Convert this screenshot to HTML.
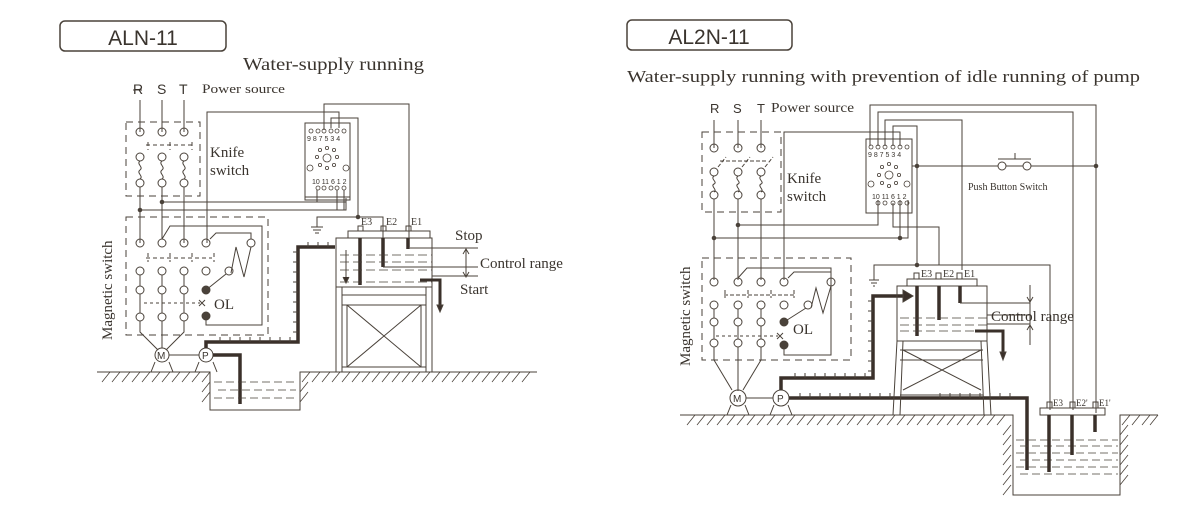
<!DOCTYPE html>
<html><head><meta charset="utf-8"><style>
html,body{margin:0;padding:0;background:#fff}
svg{display:block}
text{font-family:"Liberation Serif",serif;fill:#3a342e}
.s{font-family:"Liberation Sans",sans-serif}
</style></head><body>
<svg width="1200" height="522" viewBox="0 0 1200 522" xmlns="http://www.w3.org/2000/svg">
<g fill="none" stroke="#4a423a" stroke-width="1">
<!-- ===== LEFT ===== -->
<rect x="60" y="21" width="166" height="30" rx="5" stroke-width="1.5"/>
<path d="M140 100V132M162 100V132M184 100V132"/>
<path d="M133 90H142"/>
<rect x="126" y="122" width="74" height="74" stroke-dasharray="7,5"/>
<g>
<circle cx="140" cy="132" r="4"/><circle cx="162" cy="132" r="4"/><circle cx="184" cy="132" r="4"/>
<circle cx="140" cy="157" r="4"/><circle cx="162" cy="157" r="4"/><circle cx="184" cy="157" r="4"/>
<circle cx="140" cy="183" r="4"/><circle cx="162" cy="183" r="4"/><circle cx="184" cy="183" r="4"/>
</g>
<path d="M148 142V150M170 142V150M192 142V150M146 145H195" stroke-dasharray="4,3"/>
<path d="M140 161c-4 3 4 6 0 9s4 6 0 9M162 161c-4 3 4 6 0 9s4 6 0 9M184 161c-4 3 4 6 0 9s4 6 0 9"/>
<path d="M140 187V239M162 187V239M184 187V239"/>
<path d="M140 210H346V198M162 202H346"/>
<circle cx="140" cy="210" r="1.8" fill="#4a423a"/><circle cx="162" cy="202" r="1.8" fill="#4a423a"/>
<rect x="305" y="123" width="45" height="74"/>
<path d="M305 197v3h45v-3"/>
<g stroke-width="0.8">
<circle cx="311" cy="131" r="2"/><circle cx="318" cy="131" r="2"/><circle cx="324" cy="131" r="2"/><circle cx="331" cy="131" r="2"/><circle cx="337" cy="131" r="2"/><circle cx="344" cy="131" r="2"/>
<circle cx="318" cy="188" r="2"/><circle cx="324" cy="188" r="2"/><circle cx="331" cy="188" r="2"/><circle cx="337" cy="188" r="2"/><circle cx="344" cy="188" r="2"/>
<circle cx="327" cy="158" r="4"/>
<circle cx="327" cy="148" r="1.6"/><circle cx="334" cy="150" r="1.6"/><circle cx="337" cy="157" r="1.6"/><circle cx="334" cy="165" r="1.6"/><circle cx="327" cy="168" r="1.6"/><circle cx="320" cy="165" r="1.6"/><circle cx="317" cy="157" r="1.6"/><circle cx="320" cy="150" r="1.6"/>
<circle cx="310" cy="168" r="3"/><circle cx="346" cy="168" r="3"/>
</g>
<path d="M324 130V104H409V238"/>
<path d="M207 243V112H339V128"/>
<path d="M331 128V118H358V217"/>
<path d="M317 190V202M337 190V210M344 190V210"/>
<path d="M358 217H383V238M358 217H317V227"/>
<circle cx="358" cy="217" r="1.8" fill="#4a423a"/>
<path d="M311 227h12M313 230h8M315 233h4"/>
<rect x="126" y="217" width="142" height="118" stroke-dasharray="7,5"/>
<path d="M140 239V243M184 239V243"/>
<g>
<circle cx="140" cy="243" r="4"/><circle cx="162" cy="243" r="4"/><circle cx="184" cy="243" r="4"/><circle cx="206" cy="243" r="4"/><circle cx="251" cy="243" r="4"/>
<circle cx="140" cy="271" r="4"/><circle cx="162" cy="271" r="4"/><circle cx="184" cy="271" r="4"/><circle cx="206" cy="271" r="4"/><circle cx="229" cy="271" r="4"/>
<circle cx="140" cy="290" r="4"/><circle cx="162" cy="290" r="4"/><circle cx="184" cy="290" r="4"/>
<circle cx="140" cy="317" r="4"/><circle cx="162" cy="317" r="4"/><circle cx="184" cy="317" r="4"/>
</g>
<circle cx="206" cy="290" r="4" fill="#4a423a"/><circle cx="206" cy="316" r="4" fill="#4a423a"/>
<path d="M162 239l8-13H262V325H206V316"/>
<path d="M210 239l6-6H251V239M251 247l-7 30-8-30-5 26" />
<path d="M206 290l20-16"/>
<path d="M148 253V262M170 253V262M192 253V262M214 253V262M146 258H212" stroke-dasharray="4,3"/>
<path d="M140 275V286M162 275V286M184 275V286M140 294V313M162 294V313M184 294V313"/>
<path d="M144 303H200" stroke-dasharray="3,3"/>
<path d="M199 300l6 6M205 300l-6 6"/>
<path d="M140 321V332l18 18M162 321V348M184 321V332l-18 18"/>
<circle cx="162" cy="355" r="7"/><circle cx="206" cy="355" r="7"/>
<path d="M169 355H199M155 362l-4 10M169 362l4 10M199 362l-4 10M213 362l4 10"/>
<path d="M206 348V342H298V247H335" stroke-width="3.5" stroke="#3a302a"/>
<path d="M213 355H240V404" stroke-width="3.5" stroke="#3a302a"/>
<path d="M298 252h-5M298 262h-5M298 272h-5M298 282h-5M298 292h-5M298 302h-5M298 312h-5M298 322h-5M298 332h-5M290 342v-5M280 342v-5M270 342v-5M260 342v-5M250 342v-5M240 342v-5M230 342v-5M220 342v-5M308 247v-5M318 247v-5M328 247v-5"/>
<path d="M97 372H210V410H300V372H537"/>
<g stroke-width="0.8">
<path d="M102 382l8-10M112 382l8-10M122 382l8-10M132 382l8-10M142 382l8-10M152 382l8-10M162 382l8-10M172 382l8-10M182 382l8-10M192 382l8-10M202 382l8-10M202 392l8-10M202 402l8-10M302 382l8-10M312 382l8-10M322 382l8-10M332 382l8-10M342 382l8-10M352 382l8-10M362 382l8-10M372 382l8-10M382 382l8-10M392 382l8-10M402 382l8-10M412 382l8-10M422 382l8-10M432 382l8-10M442 382l8-10M452 382l8-10M462 382l8-10M472 382l8-10M482 382l8-10M492 382l8-10M502 382l8-10M512 382l8-10M522 382l8-10M300 392l8-10M300 402l8-10"/>
</g>
<path d="M214 382H296M218 390H296M214 398H296" stroke-dasharray="8,4" stroke-width="0.8"/>
<rect x="336" y="238" width="96" height="49"/>
<rect x="348" y="231" width="82" height="7"/>
<rect x="358" y="226" width="5" height="5"/><rect x="381" y="226" width="5" height="5"/><rect x="406" y="226" width="5" height="5"/>
<path d="M360 238V285M383 238V267M408 238V249" stroke-width="3.5" stroke="#3a302a"/>
<path d="M340 255H432M340 262H432M340 270H432M340 282H432" stroke-dasharray="9,4" stroke-width="0.8"/>
<path d="M346 250V282" /><path d="M343 277l3 6 3-6" fill="#3a302a"/>
<path d="M420 280H440V308" stroke-width="3" stroke="#3a302a"/>
<path d="M437 305l3 7 3-7z" fill="#3a302a"/>
<path d="M410 248H478M383 267H478M432 276H478M466 250V276"/>
<path d="M463 254l3 -5 3 5M463 272l3 5 3-5"/>
<path d="M336 287V372M342 287V372M426 287V372M432 287V372M342 295H426M342 305H426M342 367H426M347 305L421 367M421 305L347 367M347 305V367M421 305V367"/>

<!-- ===== RIGHT ===== -->
<rect x="627" y="20" width="165" height="30" rx="5" stroke-width="1.5"/>
<path d="M714 120V148M738 120V148M761 120V148"/>
<rect x="702" y="132" width="79" height="80" stroke-dasharray="7,5"/>
<g>
<circle cx="714" cy="148" r="4"/><circle cx="738" cy="148" r="4"/><circle cx="761" cy="148" r="4"/>
<circle cx="714" cy="172" r="4"/><circle cx="738" cy="172" r="4"/><circle cx="761" cy="172" r="4"/>
<circle cx="714" cy="195" r="4"/><circle cx="738" cy="195" r="4"/><circle cx="761" cy="195" r="4"/>
</g>
<path d="M718 167l8-10M742 167l8-10M765 167l8-10M720 161H768" stroke-dasharray="4,2"/>
<path d="M714 176c-4 3 4 6 0 8s4 6 0 8M738 176c-4 3 4 6 0 8s4 6 0 8M761 176c-4 3 4 6 0 8s4 6 0 8"/>
<path d="M714 199V280M738 199V280M761 199V280"/>
<path d="M738 225H878V200M714 238H908V200M900 200V238"/>
<circle cx="738" cy="225" r="1.8" fill="#4a423a"/><circle cx="714" cy="238" r="1.8" fill="#4a423a"/><circle cx="900" cy="238" r="1.8" fill="#4a423a"/>
<rect x="866" y="139" width="46" height="74"/>
<g stroke-width="0.8">
<circle cx="871" cy="147" r="2"/><circle cx="878" cy="147" r="2"/><circle cx="885" cy="147" r="2"/><circle cx="893" cy="147" r="2"/><circle cx="900" cy="147" r="2"/><circle cx="907" cy="147" r="2"/>
<circle cx="878" cy="203" r="2"/><circle cx="885" cy="203" r="2"/><circle cx="893" cy="203" r="2"/><circle cx="900" cy="203" r="2"/><circle cx="907" cy="203" r="2"/>
<circle cx="889" cy="175" r="4"/>
<circle cx="889" cy="164" r="1.6"/><circle cx="896" cy="167" r="1.6"/><circle cx="899" cy="175" r="1.6"/><circle cx="896" cy="183" r="1.6"/><circle cx="889" cy="186" r="1.6"/><circle cx="882" cy="183" r="1.6"/><circle cx="879" cy="175" r="1.6"/><circle cx="882" cy="167" r="1.6"/>
<circle cx="871" cy="184" r="3"/><circle cx="907" cy="184" r="3"/>
</g>
<path d="M870 146V105H1096V413M878 146V112H1073V410M885 146V120H962V270M893 146V126H917V265M900 146V132H784V280"/>
<path d="M893 203V227H939V265"/>
<path d="M912 166H998M1006 166H1023M1031 166H1096"/>
<circle cx="1002" cy="166" r="4"/><circle cx="1027" cy="166" r="4"/>
<path d="M998 159H1031M1015 153V159"/>
<circle cx="917" cy="166" r="1.8" fill="#4a423a"/><circle cx="1096" cy="166" r="1.8" fill="#4a423a"/>
<path d="M917 265H1050V410M917 265H874V280M869 280h10M871 283h6M873 286h2"/>
<circle cx="917" cy="265" r="1.8" fill="#4a423a"/>
<rect x="702" y="258" width="149" height="102" stroke-dasharray="7,5"/>
<g>
<circle cx="714" cy="282" r="4"/><circle cx="738" cy="282" r="4"/><circle cx="761" cy="282" r="4"/><circle cx="784" cy="282" r="4"/><circle cx="831" cy="282" r="4"/>
<circle cx="714" cy="305" r="4"/><circle cx="738" cy="305" r="4"/><circle cx="761" cy="305" r="4"/><circle cx="784" cy="305" r="4"/><circle cx="808" cy="305" r="4"/>
<circle cx="714" cy="322" r="4"/><circle cx="738" cy="322" r="4"/><circle cx="761" cy="322" r="4"/>
<circle cx="714" cy="343" r="4"/><circle cx="738" cy="343" r="4"/><circle cx="761" cy="343" r="4"/>
</g>
<circle cx="784" cy="322" r="4" fill="#4a423a"/><circle cx="784" cy="345" r="4" fill="#4a423a"/>
<path d="M738 278l9-10H831V355H784V345M788 278l6-6H831V278M831 286l-8 27-7-25-5 20M784 322l22-14"/>
<path d="M724 295H796M725 290V298M748 290V298M771 290V298M794 290V298" stroke-dasharray="4,2"/>
<path d="M714 309V318M738 309V318M761 309V318M714 326V339M738 326V339M761 326V339"/>
<path d="M716 336H778" stroke-dasharray="3,3"/><path d="M777 333l6 6M783 333l-6 6"/>
<path d="M714 347V360l18 30M738 347V391M761 347V360l-18 30"/>
<circle cx="738" cy="398" r="8"/><circle cx="781" cy="398" r="8"/>
<path d="M746 398H773M731 405l-4 10M745 405l4 10M774 405l-4 10M788 405l4 10"/>
<path d="M781 390V378H873V296H905" stroke-width="3.5" stroke="#3a302a"/>
<path d="M903 290l10 6-10 6z" fill="#3a302a"/>
<path d="M789 398H1027V470" stroke-width="3.5" stroke="#3a302a"/>
<path d="M873 301h-5M873 311h-5M873 321h-5M873 331h-5M873 341h-5M873 351h-5M873 361h-5M873 371h-5M865 378v-5M855 378v-5M845 378v-5M835 378v-5M825 378v-5M815 378v-5M805 378v-5M795 378v-5M800 398v-5M810 398v-5M820 398v-5M830 398v-5M840 398v-5M850 398v-5M860 398v-5M870 398v-5M880 398v-5M890 398v-5M940 398v-5M950 398v-5M960 398v-5M970 398v-5M980 398v-5M990 398v-5M1000 398v-5M1010 398v-5"/>
<path d="M680 415H1013V495H1120V415H1158"/>
<g stroke-width="0.8">
<path d="M687 425l8-10M697 425l8-10M707 425l8-10M717 425l8-10M727 425l8-10M737 425l8-10M747 425l8-10M757 425l8-10M767 425l8-10M777 425l8-10M787 425l8-10M797 425l8-10M807 425l8-10M817 425l8-10M827 425l8-10M837 425l8-10M847 425l8-10M857 425l8-10M867 425l8-10M877 425l8-10M887 425l8-10M897 425l8-10M907 425l8-10M917 425l8-10M927 425l8-10M937 425l8-10M947 425l8-10M957 425l8-10M967 425l8-10M977 425l8-10M987 425l8-10M997 425l8-10M1003 435l8-10M1003 445l8-10M1003 455l8-10M1003 465l8-10M1003 475l8-10M1003 485l8-10M1003 495l8-10M1122 425l8-10M1132 425l8-10M1142 425l8-10M1150 425l8-10M1120 435l8-10M1120 445l8-10M1120 455l8-10M1120 465l8-10M1120 475l8-10M1120 485l8-10"/>
</g>
<path d="M1016 440H1118M1020 446H1118M1016 453H1118M1020 460H1118M1016 467H1118M1020 474H1118" stroke-dasharray="8,4" stroke-width="0.8"/>
<rect x="1040" y="408" width="65" height="7"/>
<rect x="1047" y="402" width="5" height="6"/><rect x="1070" y="402" width="5" height="6"/><rect x="1093" y="402" width="5" height="6"/>
<path d="M1049 415V472M1072 415V455M1095 415V432" stroke-width="3.5" stroke="#3a302a"/>
<rect x="897" y="286" width="90" height="55"/>
<rect x="907" y="279" width="70" height="7"/>
<rect x="914" y="273" width="5" height="6"/><rect x="936" y="273" width="5" height="6"/><rect x="957" y="273" width="5" height="6"/>
<path d="M917 286V336M939 286V320M960 286V303" stroke-width="3.5" stroke="#3a302a"/>
<path d="M900 318H987M900 325H987M900 331H987" stroke-dasharray="9,4" stroke-width="0.8"/>
<path d="M975 331H1003V355" stroke-width="3" stroke="#3a302a"/>
<path d="M1000 352l3 8 3-8z" fill="#3a302a"/>
<path d="M960 303H1030M987 315H1030M987 324H1030M1030 285V345"/>
<path d="M1027 297l3 5 3-5M1027 330l3-5 3 5"/>
<path d="M897 341l-4 74M903 341l-3 74M987 341l4 74M981 341l3 74M900 350H983M900 360H983M900 395H983M903 350L981 390M981 350L903 390"/>
</g>
<!-- ===== TEXT ===== -->
<text class="s" x="143" y="45" font-size="21" text-anchor="middle">ALN-11</text>
<text x="243" y="70" font-size="18" textLength="181" lengthAdjust="spacingAndGlyphs">Water-supply running</text>
<text class="s" x="133" y="94" font-size="14">R</text><text class="s" x="157" y="94" font-size="14">S</text><text class="s" x="179" y="94" font-size="14">T</text>
<text x="202" y="93" font-size="13" textLength="83" lengthAdjust="spacingAndGlyphs">Power source</text>
<text x="210" y="157" font-size="15">Knife</text><text x="210" y="175" font-size="15">switch</text>
<text x="214" y="309" font-size="15">OL</text>
<text x="112" y="340" font-size="15" transform="rotate(-90 112 340)">Magnetic switch</text>
<text class="s" x="157" y="359" font-size="10">M</text><text class="s" x="202" y="359" font-size="10">P</text>
<text x="361" y="225" font-size="10">E3</text><text x="386" y="225" font-size="10">E2</text><text x="411" y="225" font-size="10">E1</text>
<text x="455" y="240" font-size="15">Stop</text>
<text x="480" y="268" font-size="15">Control range</text>
<text x="460" y="294" font-size="15">Start</text>
<text class="s" x="307" y="141" font-size="7">9 8 7 5 3 4</text><text class="s" x="312" y="184" font-size="7">10 11 6 1 2</text>
<text class="s" x="868" y="157" font-size="7">9 8 7 5 3 4</text><text class="s" x="872" y="199" font-size="7">10 11 6 1 2</text>

<text class="s" x="709" y="44" font-size="21" text-anchor="middle">AL2N-11</text>
<text x="627" y="82" font-size="17" textLength="513" lengthAdjust="spacingAndGlyphs">Water-supply running with prevention of idle running of pump</text>
<text class="s" x="710" y="113" font-size="13">R</text><text class="s" x="733" y="113" font-size="13">S</text><text class="s" x="757" y="113" font-size="13">T</text>
<text x="771" y="112" font-size="13.5" textLength="83" lengthAdjust="spacingAndGlyphs">Power source</text>
<text x="787" y="183" font-size="15">Knife</text><text x="787" y="201" font-size="15">switch</text>
<text x="793" y="334" font-size="15">OL</text>
<text x="690" y="366" font-size="15" transform="rotate(-90 690 366)">Magnetic switch</text>
<text class="s" x="733" y="402" font-size="10">M</text><text class="s" x="777" y="402" font-size="10">P</text>
<text x="968" y="190" font-size="10">Push Button Switch</text>
<text x="921" y="277" font-size="10">E3</text><text x="943" y="277" font-size="10">E2</text><text x="964" y="277" font-size="10">E1</text>
<text x="991" y="321" font-size="15">Control range</text>
<text x="1053" y="406" font-size="9">E3</text><text x="1076" y="406" font-size="9">E2'</text><text x="1099" y="406" font-size="9">E1'</text>
</svg>
</body></html>
